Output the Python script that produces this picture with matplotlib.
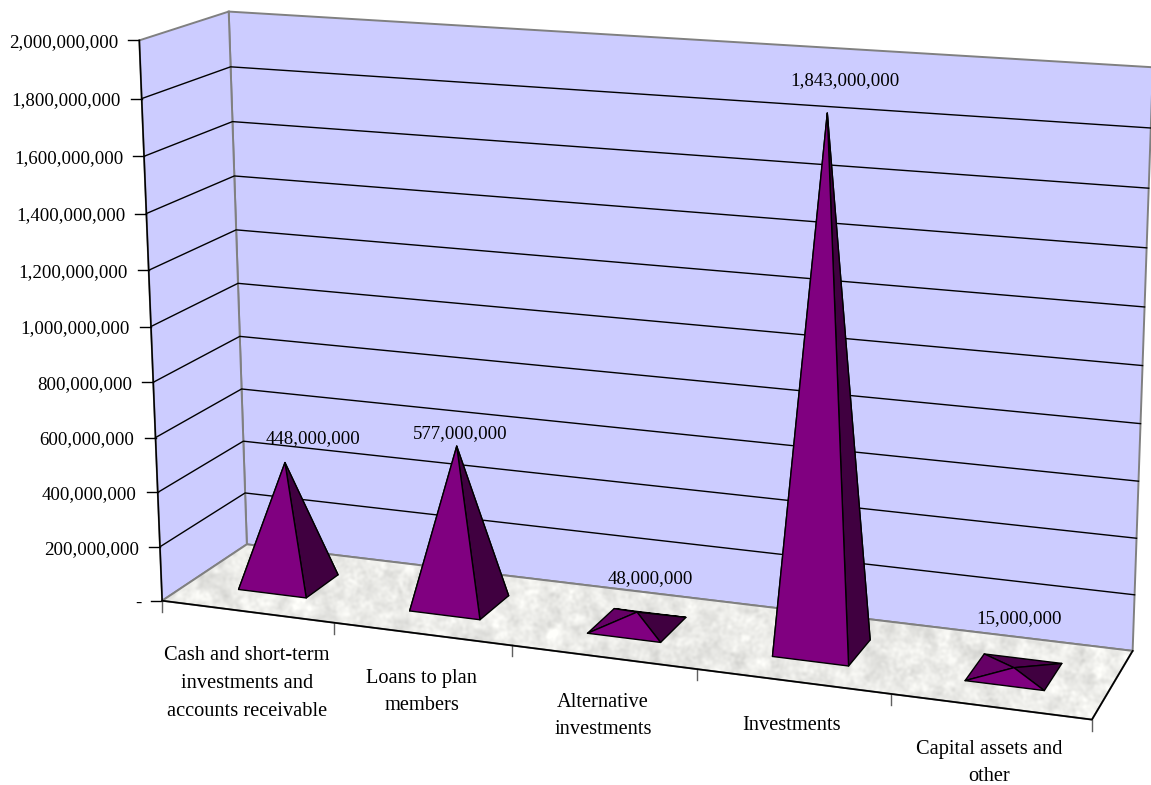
import numpy as np
import matplotlib
matplotlib.use("Agg")
from matplotlib import pyplot as plt
from matplotlib.patches import Polygon

categories = ["Cash and short-term\ninvestments and\naccounts receivable", "Loans to plan\nmembers",
              "Alternative\ninvestments", "Investments", "Capital assets and\nother"]
values = [448000000, 577000000, 48000000, 1843000000, 15000000]
value_ticks = [0, 200000000, 400000000, 600000000, 800000000, 1000000000,
               1200000000, 1400000000, 1600000000, 1800000000, 2000000000]

W, H = 1151, 785
Z_MAX = value_ticks[-1]
N = len(categories)

# box corners (category edge, depth, value) and where they land on the canvas
box_pts = [(0, 0, 0), (0, 0, Z_MAX), (0, 1, 0), (0, 1, Z_MAX), (N, 0, 0), (N, 0, Z_MAX), (N, 1, 0), (N, 1, Z_MAX)]
px_pts = [(162, 600), (139, 41), (247, 545), (229, 11), (1091, 719.5), (1113, 103), (1133.5, 651), (1151.5, 67)]

rows, rhs = [], []
for (x, d, z), (u, v) in zip(box_pts, px_pts):
    b = [x / N, d, z / Z_MAX, 1]
    rows.append(b + [0, 0, 0, 0] + [-u * t for t in b[:3]])
    rows.append([0, 0, 0, 0] + b + [-v * t for t in b[:3]])
    rhs += [u, v]
sol = np.linalg.lstsq(np.array(rows, float), np.array(rhs, float), rcond=None)[0]
P = np.append(sol, 1).reshape(3, 4)


def project(x, d, z):
    p = P @ np.array([x / N, d, z / Z_MAX, 1.0])
    return p[0] / p[2], p[1] / p[2]


fig = plt.figure(figsize=(W / 100, H / 100), dpi=100)
ax = fig.add_axes([0, 0, 1, 1])
plt.rcParams["font.family"] = ["Liberation Serif"]
FS = 13.6
FS_CAT = 14.7

# walls
wall = "#CCCCFF"
edge = "#808080"
back = [project(0, 1, 0), project(N, 1, 0), project(N, 1, Z_MAX), project(0, 1, Z_MAX)]
left = [project(0, 0, 0), project(0, 1, 0), project(0, 1, Z_MAX), project(0, 0, Z_MAX)]
floor = [project(0, 0, 0), project(N, 0, 0), project(N, 1, 0), project(0, 1, 0)]
ax.add_patch(Polygon(back, fc=wall, ec=edge, lw=1.4, zorder=1))
ax.add_patch(Polygon(left, fc=wall, ec=edge, lw=1.4, zorder=1))

# speckled floor texture, only a fill pattern
rng = np.random.default_rng(7)


def smooth_noise(sigma):
    n = rng.normal(size=(H, W))
    fy = np.fft.fftfreq(H)[:, None]
    fx = np.fft.fftfreq(W)[None, :]
    g = np.exp(-2 * (np.pi * sigma) ** 2 * (fx ** 2 + fy ** 2))
    s = np.fft.ifft2(np.fft.fft2(n) * g).real
    return s / s.std()


tex = 235 + 6 * smooth_noise(5) + 4 * smooth_noise(1.5)
tex = np.clip(tex, 0, 255) / 255
img = ax.imshow(np.dstack([tex, tex, tex * 0.985]), extent=(0, W, H, 0), aspect="auto", zorder=1.5)
floor_patch = Polygon(floor, fc="none", ec="none", transform=ax.transData)
ax.add_patch(floor_patch)
img.set_clip_path(floor_patch)
ax.add_patch(Polygon(floor, fc="none", ec=edge, lw=1.4, zorder=1.6))

# gridlines and value axis
for v in value_ticks:
    a, b, c = project(0, 0, v), project(0, 1, v), project(N, 1, v)
    if 0 < v < Z_MAX:
        ax.plot([a[0], b[0], c[0]], [a[1], b[1], c[1]], color="black", lw=1.0, zorder=2)
    ax.plot([a[0] - 11, a[0]], [a[1], a[1]], color="black", lw=1.0, zorder=2)
    label = format(v, ",") if v else "-"
    ax.text(a[0] - 21, a[1] + 2.5, label, ha="right", va="center", fontsize=FS, color="black")

# front axis lines
p0, p1 = project(0, 0, 0), project(0, 0, Z_MAX)
ax.plot([p0[0], p1[0]], [p0[1], p1[1]], color="black", lw=1.1, zorder=3)
p2, p3 = project(N, 0, 0), project(N, 1, 0)
ax.plot([p0[0], p2[0], p3[0]], [p0[1], p2[1], p3[1]], color="black", lw=1.2, zorder=3)

# category ticks
for i in range(N + 1):
    t = project(i, 0, 0)
    ax.plot([t[0], t[0]], [t[1], t[1] + 11], color="#606060", lw=1.0, zorder=2)

# pyramids
half_w = 0.2
d_front, d_back = 0.3, 0.7
for i, val in enumerate(values):
    c = i + 0.5
    fl = project(c - half_w, d_front, 0)
    fr = project(c + half_w, d_front, 0)
    br = project(c + half_w, d_back, 0)
    bl = project(c - half_w, d_back, 0)
    apex = project(c, (d_front + d_back) / 2, val)
    for tri, col in [((bl, br), "#4D004D"), ((fl, bl), "#660066"), ((fr, br), "#400040"), ((fl, fr), "#800080")]:
        ax.add_patch(Polygon([tri[0], tri[1], apex], fc=col, ec="black", lw=1.0, joinstyle="round", zorder=4))

# data labels
label_xy = [(313, 439), (460, 434), (650, 579), (845, 81), (1019, 619)]
for val, (x, y) in zip(values, label_xy):
    ax.text(x, y, format(val, ","), ha="center", va="center", fontsize=FS, color="black", zorder=5)

# category labels
cat_xy = [(247, 683.5), (422, 692), (603, 716), (792, 725), (989, 763)]
for name, (x, y) in zip(categories, cat_xy):
    ax.text(x, y, name, ha="center", va="center", fontsize=FS_CAT, linespacing=1.62, color="black", zorder=5)

ax.set_xlim(0, W)
ax.set_ylim(H, 0)
ax.axis("off")
fig.savefig("out.png", dpi=100)
